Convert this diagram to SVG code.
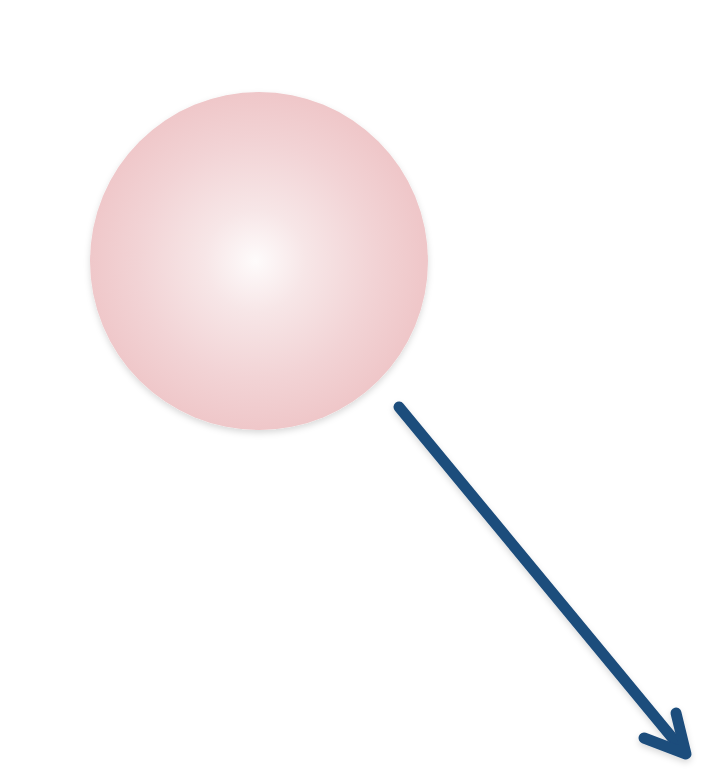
<svg xmlns="http://www.w3.org/2000/svg" width="710" height="778" viewBox="0 0 710 778">
<defs>
<radialGradient id="sph" cx="0.49" cy="0.5" r="0.5">
<stop offset="0" stop-color="#fefbfb"/>
<stop offset="0.3" stop-color="#f7e6e7"/>
<stop offset="0.7" stop-color="#f2d3d5"/>
<stop offset="1" stop-color="#efc7c9"/>
</radialGradient>
<filter id="sh" x="-20%" y="-20%" width="140%" height="140%">
<feDropShadow dx="0" dy="3" stdDeviation="3" flood-color="#000" flood-opacity="0.15"/>
</filter>
<style>
.conn{fill:none;stroke:#1e4d7c;stroke-width:11;stroke-linecap:round;stroke-linejoin:round}
</style>
</defs>
<rect width="710" height="778" fill="#ffffff"/>
<g id="sphere">
<circle cx="259" cy="261" r="169" fill="url(#sph)" filter="url(#sh)"/>
</g>
<g id="connectors" filter="url(#sh)">
<line class="conn" x1="399" y1="407" x2="684" y2="752"/>
<polyline class="conn" points="676,713 686,754 644,738"/>
</g>
</svg>
